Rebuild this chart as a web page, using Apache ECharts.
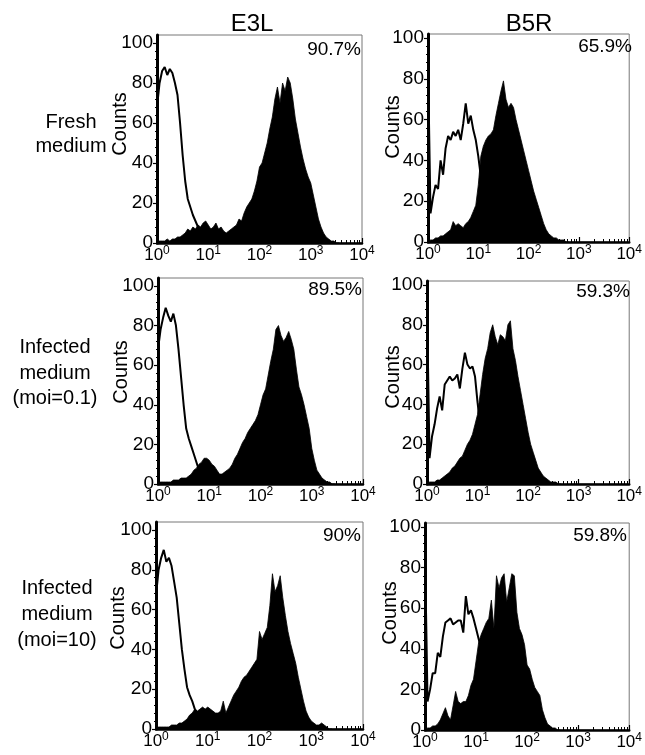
<!DOCTYPE html>
<html>
<head>
<meta charset="utf-8">
<title>E3L / B5R flow histograms</title>
<style>html, body {margin: 0; padding: 0; background: #fff;} #main {width: 645px; height: 755px;}</style>
<script src="https://cdn.jsdelivr.net/npm/echarts@6/dist/echarts.min.js"></script>
</head>
<body>
<div id="main"></div>
<script type="text/javascript">
// channel width in decades (x axis is log10 of fluorescence, 10^0 .. 10^4)
var BIN = 0.05;
var columnTitles = ['E3L', 'B5R'];
var rowTitles = ['Fresh\nmedium', 'Infected\nmedium\n(moi=0.1)', 'Infected\nmedium\n(moi=10)'];
var percentLabels = ['90.7%', '65.9%', '89.5%', '59.3%', '90%', '59.8%'];
var yTickValues = [0, 20, 40, 60, 80, 100];
var xDecades = [0, 1, 2, 3, 4];
var yName = 'Counts';

// open curves = control, filled = stained; one value per channel starting at 10^0
var e3lFreshCtl = [68, 80, 86, 88, 84, 87, 85, 80, 74, 60, 44, 31, 22, 18, 14, 11, 8, 5, 3, 2,
  2, 1, 1, 1, 1, 1, 0, 0];
var e3lFresh = [1, 1, 1, 1, 2, 1, 2, 2, 3, 3, 4, 5, 7, 6, 8, 7, 9, 8, 10, 11,
  9, 7, 8, 10, 7, 8, 6, 5, 6, 7, 8, 9, 12, 11, 15, 18, 20, 22, 26, 31,
  38, 40, 45, 50, 57, 63, 72, 78, 70, 80, 76, 83, 80, 72, 62, 55, 48, 42, 37, 33,
  30, 24, 18, 12, 8, 5, 3, 2, 1, 1, 0, 0];
var b5rFreshCtl = [88, 14, 22, 28, 26, 40, 33, 46, 52, 50, 54, 52, 55, 50, 58, 68, 58, 62, 55, 50,
  42, 32, 22, 14, 8, 5, 3, 2, 1, 0, 0];
var b5rFresh = [0, 1, 1, 2, 2, 3, 3, 4, 5, 6, 10, 8, 9, 8, 7, 9, 10, 12, 15, 18,
  28, 42, 47, 50, 52, 53, 55, 62, 68, 74, 79, 70, 66, 68, 66, 60, 55, 50, 45, 40,
  35, 30, 25, 21, 17, 13, 9, 6, 4, 3, 2, 2, 1, 1, 1, 0, 0];
var e3lMoi01Ctl = [68, 78, 84, 89, 85, 82, 86, 80, 68, 54, 40, 28, 23, 19, 15, 11, 7, 5, 3, 2,
  2, 1, 1, 1, 1, 0, 0];
var e3lMoi01 = [1, 1, 1, 1, 1, 1, 2, 2, 2, 3, 3, 3, 4, 5, 7, 8, 10, 11, 13, 13,
  12, 10, 9, 7, 5, 5, 6, 7, 8, 10, 13, 15, 18, 21, 23, 26, 28, 30, 32, 35,
  40, 45, 48, 55, 62, 68, 78, 80, 75, 72, 74, 77, 73, 68, 58, 49, 45, 40, 34, 28,
  18, 12, 7, 5, 3, 2, 1, 1, 0, 0];
var b5rMoi01Ctl = [90, 13, 24, 30, 38, 44, 37, 50, 52, 54, 52, 53, 55, 48, 58, 66, 60, 58, 59, 54,
  41, 30, 20, 13, 8, 5, 3, 2, 1, 0, 0];
var b5rMoi01 = [0, 1, 1, 1, 2, 2, 3, 4, 5, 6, 8, 9, 11, 13, 14, 17, 20, 22, 25, 30,
  35, 45, 55, 63, 68, 76, 80, 74, 70, 75, 74, 72, 80, 82, 68, 62, 54, 47, 40, 33,
  26, 20, 16, 12, 8, 6, 4, 3, 2, 1, 1, 1, 0, 0];
var e3lMoi10Ctl = [67, 80, 86, 90, 84, 86, 82, 74, 66, 53, 40, 30, 21, 17, 14, 10, 8, 5, 3, 2,
  2, 1, 1, 1, 0, 0];
var e3lMoi10 = [1, 1, 1, 1, 1, 1, 2, 2, 2, 3, 3, 4, 5, 7, 8, 10, 9, 10, 11, 10,
  11, 10, 9, 8, 8, 9, 14, 8, 11, 14, 17, 19, 21, 24, 26, 27, 29, 31, 33, 35,
  49, 45, 48, 51, 62, 78, 69, 72, 77, 66, 57, 49, 43, 38, 33, 26, 20, 14, 9, 6,
  4, 3, 2, 2, 3, 2, 1, 0, 0];
var b5rMoi10Ctl = [88, 14, 20, 28, 28, 38, 36, 46, 53, 54, 55, 52, 53, 54, 54, 48, 66, 57, 59, 55,
  50, 45, 40, 32, 24, 16, 10, 6, 3, 2, 1, 0, 0];
var b5rMoi10 = [0, 1, 1, 2, 2, 3, 5, 8, 11, 7, 5, 12, 19, 14, 13, 14, 14, 17, 22, 25,
  34, 43, 47, 50, 53, 55, 64, 50, 76, 70, 75, 77, 63, 70, 77, 76, 58, 50, 47, 42,
  32, 30, 25, 21, 19, 17, 10, 6, 3, 2, 1, 1, 0, 0];

var panels = [
  [e3lFreshCtl, e3lFresh], [b5rFreshCtl, b5rFresh],
  [e3lMoi01Ctl, e3lMoi01], [b5rMoi01Ctl, b5rMoi01],
  [e3lMoi10Ctl, e3lMoi10], [b5rMoi10Ctl, b5rMoi10]
];

// layout
var gridBoxes = [
  {left: 157, top: 35, width: 205, height: 208},
  {left: 428, top: 34, width: 208, height: 208},
  {left: 158, top: 278, width: 205, height: 206},
  {left: 427, top: 281, width: 209, height: 203},
  {left: 156, top: 522, width: 207, height: 207},
  {left: 425, top: 523, width: 208, height: 207}
];
var yMax = [104, 102, 104, 102, 104, 102];
var pctPos = [[361, 50], [632, 47], [362, 290], [630, 292], [361, 536], [627, 536]];
var countsPos = [[120, 124], [393, 127], [121, 372], [393, 377], [118, 618], [390, 613]];
var colTitlePos = [[252, 24], [529, 24]];
var rowTitlePos = [[71, 110, 24], [55, 335, 25.5], [57, 575, 26]];

var FONT = '"Liberation Sans", Arial, sans-serif';

var xMinor = [];
xDecades.slice(0, 4).forEach(function (d) {
  for (var k = 2; k <= 9; k++) xMinor.push(d + Math.log10(k));
});
var yMinor = [];
for (var t = 4; t < 100; t += 4) { if (t % 20) yMinor.push(t); }

function toPairs(arr) {
  return arr.map(function (v, i) { return [i * BIN, v]; });
}

var grid = [], xAxis = [], yAxis = [], series = [], graphic = [];

panels.forEach(function (p, g) {
  var b = gridBoxes[g];
  grid.push({left: b.left, top: b.top, width: b.width, height: b.height,
    show: true, borderColor: '#777', borderWidth: 1, containLabel: false});

  xAxis.push({
    gridIndex: g, type: 'value', min: 0, max: 4, position: 'bottom',
    axisLine: {show: true, onZero: false, lineStyle: {color: '#000', width: 2.5}},
    axisTick: {show: true, inside: true, length: 5, customValues: xDecades, lineStyle: {color: '#000', width: 1.2}},
    axisLabel: {
      customValues: xDecades, margin: 2, color: '#000',
      formatter: function (v) { return '{b|10}{s|' + v + '}'; },
      rich: {
        b: {fontSize: 17, fontFamily: FONT, color: '#000', lineHeight: 19, verticalAlign: 'bottom'},
        s: {fontSize: 12, fontFamily: FONT, color: '#000', lineHeight: 11, verticalAlign: 'top'}
      }
    },
    splitLine: {show: false}
  });
  xAxis.push({
    gridIndex: g, type: 'value', min: 0, max: 4, position: 'bottom',
    axisLine: {show: false},
    axisTick: {show: true, inside: true, length: 3, customValues: xMinor, lineStyle: {color: '#000', width: 1}},
    axisLabel: {show: false},
    splitLine: {show: false}
  });

  yAxis.push({
    gridIndex: g, type: 'value', min: 0, max: yMax[g], position: 'left',
    axisLine: {show: true, onZero: false, lineStyle: {color: '#000', width: 3}},
    axisTick: {show: true, inside: false, length: 4, customValues: yTickValues, lineStyle: {color: '#000', width: 1.2}},
    axisLabel: {customValues: yTickValues, margin: 4, fontSize: 19, fontFamily: FONT, color: '#000'},
    splitLine: {show: false}
  });
  yAxis.push({
    gridIndex: g, type: 'value', min: 0, max: yMax[g], position: 'left',
    axisLine: {show: false},
    axisTick: {show: true, inside: false, length: 2, customValues: yMinor, lineStyle: {color: '#000', width: 1}},
    axisLabel: {show: false},
    splitLine: {show: false}
  });

  series.push({
    type: 'line', xAxisIndex: 2 * g, yAxisIndex: 2 * g, data: toPairs(p[1]),
    symbol: 'none', lineStyle: {color: '#000', width: 0.8},
    areaStyle: {color: '#000', opacity: 1}, z: 2
  });
  series.push({
    type: 'line', xAxisIndex: 2 * g, yAxisIndex: 2 * g, data: toPairs(p[0]),
    symbol: 'none', lineStyle: {color: '#000', width: 2}, z: 3
  });

  graphic.push({type: 'text', x: pctPos[g][0], y: pctPos[g][1],
    style: {text: percentLabels[g], font: '19px ' + FONT, fill: '#000', align: 'right', verticalAlign: 'middle'}});
  graphic.push({type: 'text', x: countsPos[g][0], y: countsPos[g][1], rotation: Math.PI / 2,
    style: {text: yName, font: '20px ' + FONT, fill: '#000', align: 'center', verticalAlign: 'middle'}});
});

columnTitles.forEach(function (c, i) {
  graphic.push({type: 'text', x: colTitlePos[i][0], y: colTitlePos[i][1],
    style: {text: c, font: '24px ' + FONT, fill: '#000', align: 'center', verticalAlign: 'middle'}});
});
rowTitles.forEach(function (r, i) {
  graphic.push({type: 'text', x: rowTitlePos[i][0], y: rowTitlePos[i][1],
    style: {text: r, font: '20px ' + FONT, fill: '#000', align: 'center', verticalAlign: 'top', lineHeight: rowTitlePos[i][2]}});
});

var myChart = echarts.init(document.getElementById('main'));
myChart.setOption({
  animation: false,
  backgroundColor: '#fff',
  textStyle: {fontFamily: FONT},
  grid: grid,
  xAxis: xAxis,
  yAxis: yAxis,
  series: series,
  graphic: graphic
});
</script>
</body>
</html>
